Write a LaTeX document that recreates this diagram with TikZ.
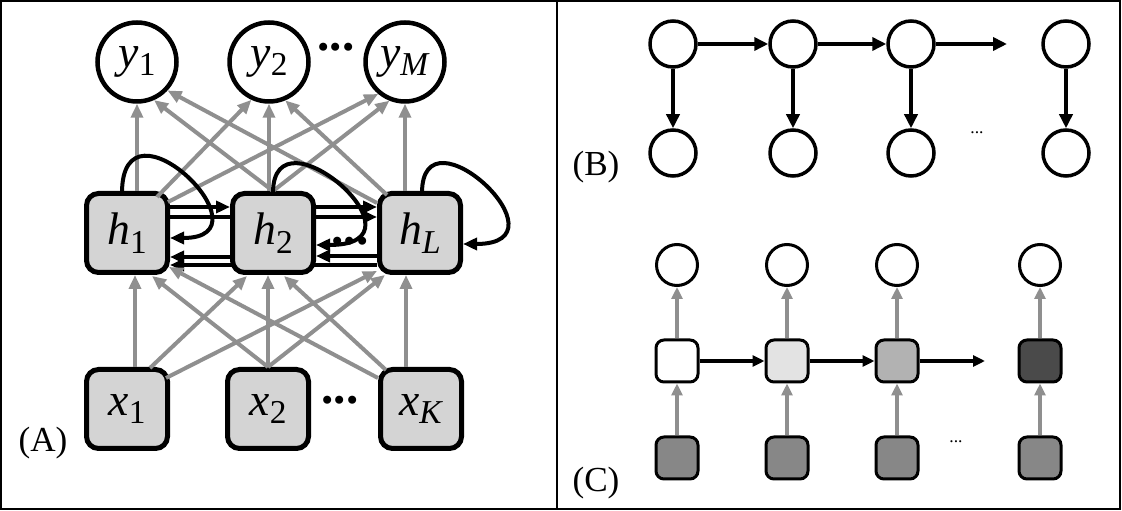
\documentclass[tikz,border=0pt]{standalone}
\usepackage{fontspec}
\setmainfont{Liberation Serif}
\usetikzlibrary{arrows.meta,backgrounds}
\definecolor{boxgray}{gray}{0.83}
\definecolor{linkgray}{gray}{0.56}
\newcommand{\idx}[2]{\textit{#1}\raisebox{-2.4pt}{\fontsize{9.5}{10}\selectfont #2}}

\begin{document}
\begin{tikzpicture}[x=0.1mm,y=-0.1mm,font=\fontsize{10}{12}\selectfont,
  unitbox/.style={draw,line width=0.5mm,rounded corners=1.2mm,fill=boxgray,minimum width=8.1mm,minimum height=7.9mm,inner sep=0pt,font=\fontsize{13}{15}\selectfont},
  outcirc/.style={draw,circle,line width=0.45mm,minimum size=7.9mm,inner sep=0pt,font=\fontsize{13}{15}\selectfont},
  graylink/.style={draw=linkgray,line width=0.4mm,-{Triangle[length=1.4mm,width=1.2mm]}},
  blacklink/.style={line width=0.4mm,-{Triangle[length=1.4mm,width=1.2mm]}},
  bigdots/.style={font=\fontsize{14}{15}\selectfont\bfseries},
  smalldots/.style={font=\fontsize{5}{6}\selectfont},
  chaincirc/.style={draw,circle,line width=0.35mm,minimum size=4.6mm,inner sep=0pt},
  chainlink/.style={line width=0.45mm,-{Triangle[length=1.4mm,width=1.3mm]}},
  statecirc/.style={draw,circle,line width=0.3mm,minimum size=4.1mm,inner sep=0pt},
  statebox/.style={draw,line width=0.3mm,rounded corners=0.8mm,minimum size=4.2mm,inner sep=0pt},
  statelink/.style={line width=0.35mm,-{Triangle[length=1.2mm,width=1.1mm]}},
  stategray/.style={draw=linkgray,line width=0.4mm,-{Triangle[length=1.2mm,width=1.1mm]}}]
\useasboundingbox (0,0) rectangle (1122,511);
\draw[line width=0.2mm] (1,1) rectangle (1120,509);
\draw[line width=0.2mm] (557,1) -- (557,509);

% (A) network
\node[outcirc] (y1) at (137,62) {\idx{y}{1}};
\node[outcirc] (y2) at (269,62) {\idx{y}{2}};
\node[outcirc] (yM) at (405,62) {\idx{y}{\textit{M}}};
\node[bigdots] (ydots) at (336,47) {...};
\node[unitbox] (h1) at (127,233) {\idx{h}{1}};
\node[unitbox] (h2) at (273,233) {\idx{h}{2}};
\node[unitbox] (hL) at (420,233) {\idx{h}{\textit{L}}};
\node[bigdots] (hdots) at (350,241) {...};
\node[unitbox] (x1) at (127,409) {\idx{x}{1}};
\node[unitbox] (x2) at (268,409) {\idx{x}{2}};
\node[unitbox] (xK) at (421,409) {\idx{x}{\textit{K}}};
\node[bigdots] (xdots) at (340,400) {...};
\node (labA) at (43,443) {(A)};

\draw[graylink] ([shift={(10,0)}]h1.north) -- (y1.south);
\draw[graylink] ([shift={(-13,6)}]h1.north east) -- (y2.245);
\draw[graylink] ([shift={(-2,11)}]h1.north east) -- (yM.230);
\draw[graylink] (h2.north) -- (y1.294);
\draw[graylink] ([shift={(-4,0)}]h2.north) -- (y2.south);
\draw[graylink] (h2.north) -- (yM.248);
\draw[graylink] ([shift={(0,12)}]hL.north west) -- (y1.317);
\draw[graylink] ([shift={(10,4)}]hL.north west) -- (y2.293);
\draw[graylink] ([shift={(-15,0)}]hL.north) -- (yM.south);

\draw[graylink] ([shift={(8,0)}]x1.north) -- ([shift={(8,0)}]h1.south);
\draw[graylink] ([shift={(-20,1)}]x1.north east) -- ([shift={(17,1)}]h2.south west);
\draw[graylink] ([shift={(-4,11)}]x1.north east) -- ([shift={(0,-4)}]hL.south west);
\draw[graylink] (x2.north) -- ([shift={(-18,1)}]h1.south east);
\draw[graylink] (x2.north) -- ([shift={(-5,0)}]h2.south);
\draw[graylink] (x2.north) -- ([shift={(8,0)}]hL.south west);
\draw[graylink] ([shift={(0,11)}]xK.north west) -- ([shift={(-1,-8)}]h1.south east);
\draw[graylink] ([shift={(8,3)}]xK.north west) -- ([shift={(-32,1)}]h2.south east);
\draw[graylink] ([shift={(-15,0)}]xK.north) -- ([shift={(-14,0)}]hL.south);

\draw[blacklink] ([shift={(0,-26)}]h1.east) -- ([shift={(0,-26)}]h2.west);
\draw[blacklink] ([shift={(0,-26)}]h2.east) -- ([shift={(0,-26)}]hL.west);
\draw[blacklink] ([shift={(0,24)}]h2.west) -- ([shift={(0,24)}]h1.east);
\draw[blacklink] ([shift={(0,23)}]hL.west) -- ([shift={(0,23)}]h2.east);
\begin{scope}[on background layer]
\draw[blacklink] ([shift={(0,-16)}]h1.east) -- ([shift={(0,-16)}]hL.west);
\draw[blacklink] ([shift={(0,32)}]hL.west) -- ([shift={(0,32)}]h1.east);
\end{scope}
\draw[blacklink] ([shift={(-5,2)}]h1.north) .. controls +(90:10.5mm) and +(0:10.5mm) .. ([shift={(0,5)}]h1.east);
\draw[blacklink] ([shift={(0,2)}]h2.north) .. controls +(90:9mm) and +(0:12mm) .. ([shift={(0,12)}]h2.east);
\draw[blacklink] ([shift={(2,2)}]hL.north) .. controls +(90:9mm) and +(0:11mm) .. ([shift={(0,11)}]hL.east);

% (B) chain
\foreach \i/\x in {1/673,2/793,3/911,4/1066}{
  \node[chaincirc] (bt\i) at (\x,44) {};
  \node[chaincirc] (bb\i) at (\x,153) {};
  \draw[chainlink] (bt\i) -- (bb\i);
}
\coordinate (bend) at (1007,44);
\draw[chainlink] (bt1) -- (bt2);
\draw[chainlink] (bt2) -- (bt3);
\draw[chainlink] (bt3) -- (bend);
\node[smalldots] (bdots) at (977,133) {...};
\node (labB) at (596,167) {(B)};

% (C) states
\foreach \i/\x/\p in {1/677/0,2/787/11,3/897/30,4/1040/71}{
  \node[statecirc] (co\i) at (\x,265) {};
  \node[statebox,fill=black!\p] (ch\i) at (\x,361) {};
  \node[statebox,fill=black!47] (ci\i) at (\x,458) {};
  \draw[stategray] (ci\i) -- (ch\i);
  \draw[stategray] (ch\i) -- (co\i);
}
\coordinate (cend) at (985,361);
\draw[statelink] (ch1) -- (ch2);
\draw[statelink] (ch2) -- (ch3);
\draw[statelink] (ch3) -- (cend);
\node[smalldots] (cdots) at (956,442) {...};
\node (labC) at (596,483) {(C)};
\end{tikzpicture}
\end{document}
